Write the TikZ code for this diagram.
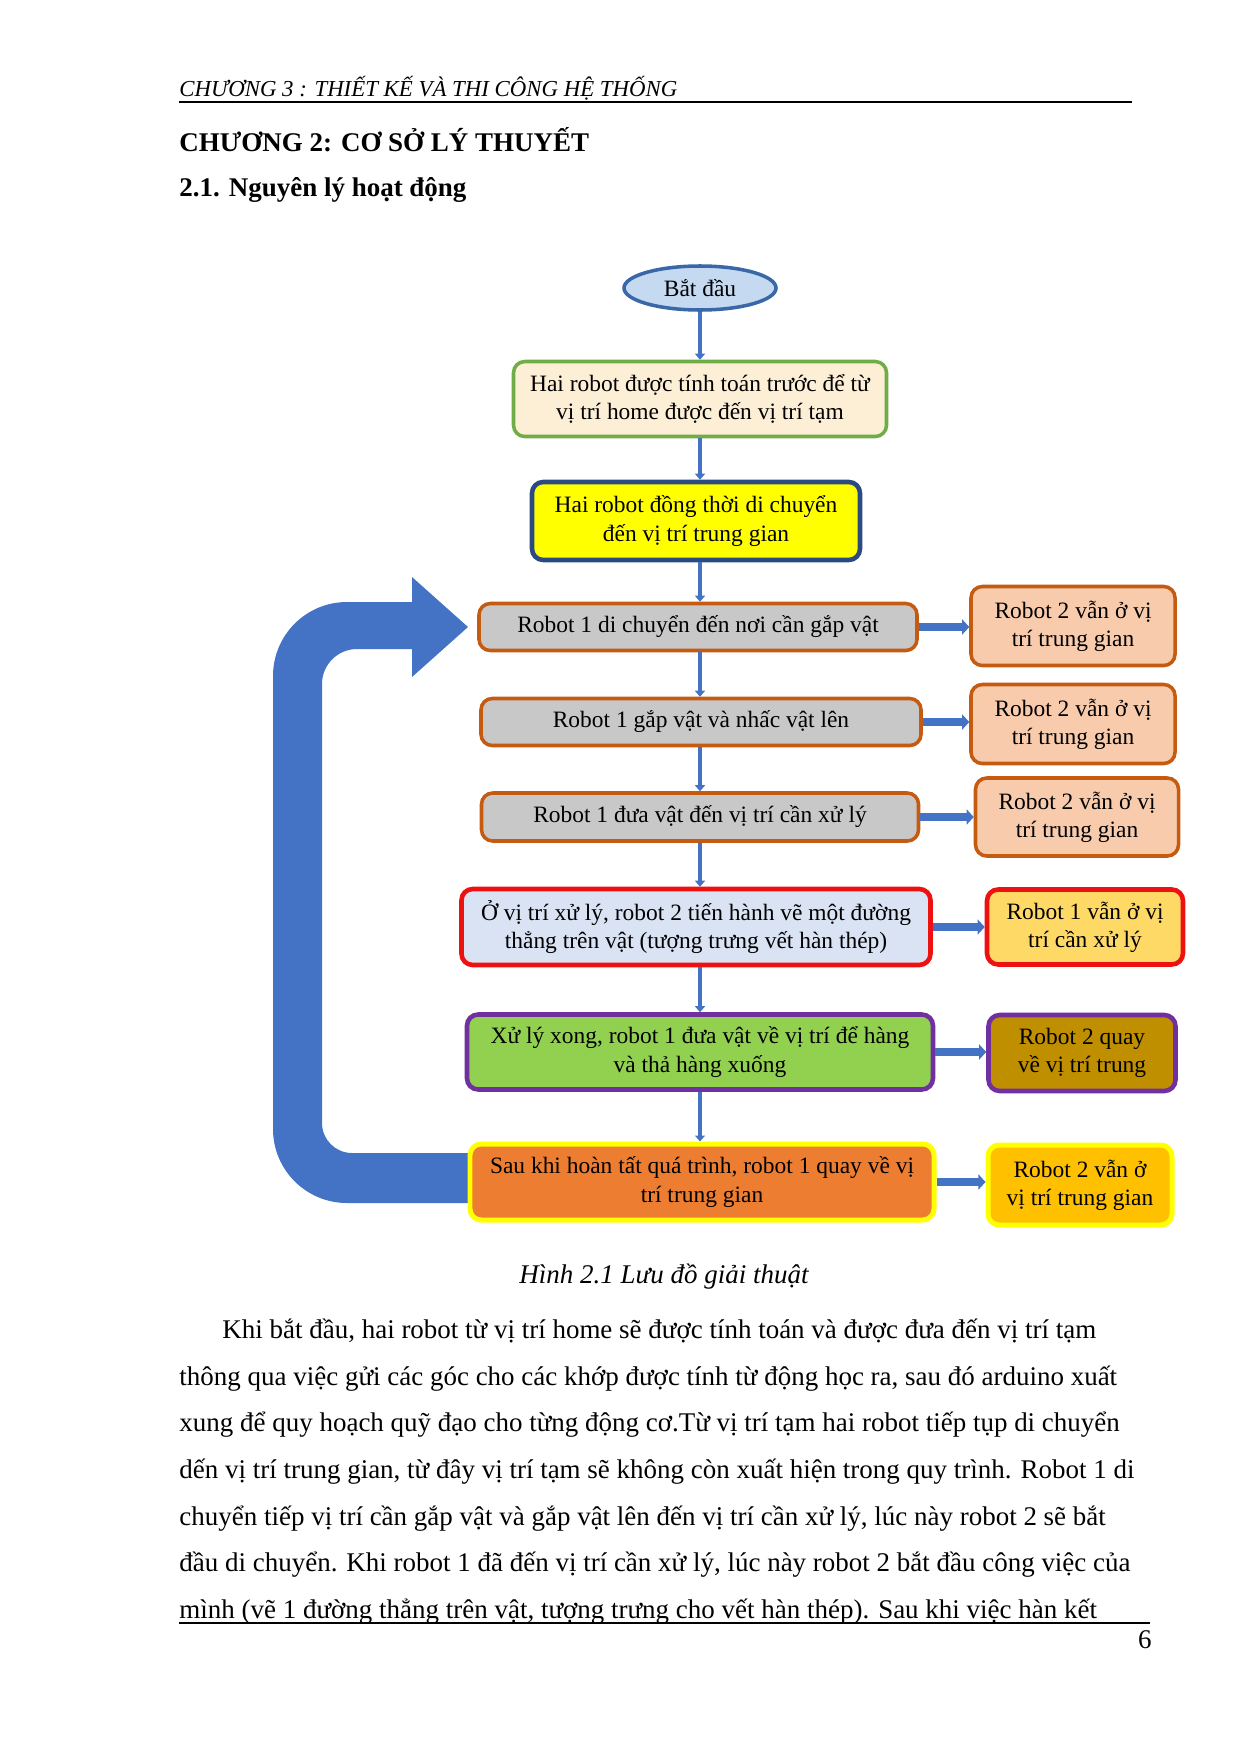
\documentclass[tikz,border=0pt]{standalone}
\usepackage{fontspec}
\setmainfont{Liberation Serif}
\usetikzlibrary{arrows.meta,shapes.geometric}
\newlength\px \setlength\px{0.16935mm}
\definecolor{conn}{HTML}{4472C4}
\definecolor{ellfill}{HTML}{C5D9F1}
\definecolor{elldraw}{HTML}{3A67A8}
\definecolor{cream}{HTML}{FCEFD6}
\definecolor{greenb}{HTML}{70AD47}
\definecolor{navy}{HTML}{2A4A80}
\definecolor{grayf}{HTML}{C8C8C8}
\definecolor{orangeb}{HTML}{C55A11}
\definecolor{peach}{HTML}{F8CBAD}
\definecolor{lblue}{HTML}{DAE3F3}
\definecolor{redb}{HTML}{EE1111}
\definecolor{lgold}{HTML}{FFD966}
\definecolor{lgreen}{HTML}{92D050}
\definecolor{purp}{HTML}{7030A0}
\definecolor{dgold}{HTML}{BF8F00}
\definecolor{orangef}{HTML}{ED7D31}
\definecolor{yelb}{HTML}{FFFF00}
\definecolor{gold}{HTML}{FFC000}
\newcommand\boxfont{\fontsize{11.3}{13.6}\selectfont}
\newcommand\bodyfont{\fontsize{13}{15}\selectfont}
\begin{document}
\begin{tikzpicture}[x=0.16935mm,y=-0.16935mm,
  box/.style={draw, rounded corners=1.9mm, line width=1.7pt, align=center, inner sep=0pt, font=\boxfont, text=black},
  varrow/.style={draw=conn, line width=2.2pt, -{Triangle[width=4.8pt,length=2.9pt]}},
  harrow/.style={draw=conn, line width=3.4pt, -{Triangle[width=7.2pt,length=3.4pt]}},
  txt/.style={anchor=base west, inner sep=0pt, font=\bodyfont}]
\fill[white] (0,0) rectangle (1240,1754);
\useasboundingbox (0,0) rectangle (1240,1754);

% page header
\node[anchor=base west, inner sep=0pt, font=\fontsize{11}{13}\selectfont\itshape] (hdr) at (179,96) {CHƯƠNG 3 : THIẾT KẾ VÀ THI CÔNG HỆ THỐNG};
\coordinate (hrl) at (179,102); \coordinate (hrr) at (1132,102);
\draw[line width=1.2pt] (hrl) -- (hrr);
\node[anchor=base west, inner sep=0pt, font=\fontsize{13}{15}\selectfont\bfseries] (chap) at (179,151) {CHƯƠNG 2: CƠ SỞ LÝ THUYẾT};
\node[anchor=base west, inner sep=0pt, font=\fontsize{13}{15}\selectfont\bfseries] (sec) at (179,196) {2.1. Nguyên lý hoạt động};

% big loop arrow
\fill[conn] (480,1203) -- (347,1203) .. controls (306.1,1203) and (273,1169.9) .. (273,1129)
  -- (273,676) .. controls (273,635.1) and (306.1,602) .. (347,602)
  -- (412,602) -- (412,577) -- (468,627) -- (412,677) -- (412,649)
  -- (357,649) .. controls (337.7,649) and (322,664.7) .. (322,684)
  -- (322,1123) .. controls (322,1139.6) and (335.4,1153) .. (352,1153)
  -- (480,1153) -- cycle;

% flowchart
\node[ellipse, draw=elldraw, fill=ellfill, line width=1.7pt, minimum width=152\px, minimum height=44\px, inner sep=0pt, font=\boxfont] (st) at (700,288) {Bắt đầu};
\node[box, draw=greenb, fill=cream, minimum width=373\px, minimum height=75\px] (b1) at (700,399) {Hai robot được tính toán trước để từ\\vị trí home được đến vị trí tạm};
\node[box, draw=navy, fill=yelb, line width=2.2pt, minimum width=328\px, minimum height=78\px] (b2) at (696,521) {Hai robot đồng thời di chuyển\\đến vị trí trung gian};
\node[box, draw=orangeb, fill=grayf, minimum width=438\px, minimum height=47\px] (b3) at (698,627) {Robot 1 di chuyển đến nơi cần gắp vật};
\node[box, draw=orangeb, fill=grayf, minimum width=440\px, minimum height=47\px] (b4) at (701,722) {Robot 1 gắp vật và nhấc vật lên};
\node[box, draw=orangeb, fill=grayf, minimum width=437\px, minimum height=48\px] (b5) at (700,817) {Robot 1 đưa vật đến vị trí cần xử lý};
\node[box, draw=redb, fill=lblue, line width=2.2pt, minimum width=469\px, minimum height=76\px] (b6) at (696,927) {Ở vị trí xử lý, robot 2 tiến hành vẽ một đường\\thẳng trên vật (tượng trưng vết hàn thép)};
\node[box, draw=purp, fill=lgreen, line width=2.2pt, minimum width=466\px, minimum height=75\px] (b7) at (700,1052) {Xử lý xong, robot 1 đưa vật về vị trí để hàng\\và thả hàng xuống};
\node[box, draw=yelb, fill=orangef, line width=2.4pt, minimum width=464\px, minimum height=76\px] (b8) at (702,1182) {Sau khi hoàn tất quá trình, robot 1 quay về vị\\trí trung gian};

\node[box, draw=orangeb, fill=peach, minimum width=204\px, minimum height=79\px] (r1) at (1073,626) {Robot 2 vẫn ở vị\\trí trung gian};
\node[box, draw=orangeb, fill=peach, minimum width=204\px, minimum height=79\px] (r2) at (1073,724) {Robot 2 vẫn ở vị\\trí trung gian};
\node[box, draw=orangeb, fill=peach, minimum width=203\px, minimum height=78\px] (r3) at (1077,817) {Robot 2 vẫn ở vị\\trí trung gian};
\node[box, draw=redb, fill=lgold, line width=2.2pt, minimum width=196\px, minimum height=75\px] (r4) at (1085,927) {Robot 1 vẫn ở vị\\trí cần xử lý};
\node[box, draw=purp, fill=dgold, line width=2.2pt, minimum width=187\px, minimum height=76\px] (r5) at (1082,1053) {Robot 2 quay\\về vị trí trung};
\node[box, draw=yelb, fill=gold, line width=2.4pt, minimum width=184\px, minimum height=80\px] (r6) at (1080,1185) {Robot 2 vẫn ở\\vị trí trung gian};

\draw[varrow] (st.south) -- (st.south |- b1.north);
\draw[varrow] (b1.south) -- (b1.south |- b2.north);
\draw[varrow] (b2.south -| b1.south) -- (b1.south |- b3.north);
\draw[varrow] (b1.south |- b3.south) -- (b1.south |- b4.north);
\draw[varrow] (b1.south |- b4.south) -- (b1.south |- b5.north);
\draw[varrow] (b1.south |- b5.south) -- (b1.south |- b6.north);
\draw[varrow] (b1.south |- b6.south) -- (b1.south |- b7.north);
\draw[varrow] (b1.south |- b7.south) -- (b1.south |- b8.north);

\draw[harrow] (b3.east) -- (b3.east -| r1.west);
\draw[harrow] (b4.east) -- (b4.east -| r2.west);
\draw[harrow] (b5.east) -- (b5.east -| r3.west);
\draw[harrow] (b6.east) -- (b6.east -| r4.west);
\draw[harrow] (b7.east) -- (b7.east -| r5.west);
\draw[harrow] (b8.east) -- (b8.east -| r6.west);

% caption and body text
\node[anchor=base, inner sep=0pt, font=\bodyfont\itshape] (cap) at (664,1283) {Hình 2.1 Lưu đồ giải thuật};
\node[txt] (p1) at (222,1338) {Khi bắt đầu, hai robot từ vị trí home sẽ được tính toán và được đưa đến vị trí tạm};
\node[txt] (p2) at (179,1385) {thông qua việc gửi các góc cho các khớp được tính từ động học ra, sau đó arduino xuất};
\node[txt] (p3) at (179,1431) {xung để quy hoạch quỹ đạo cho từng động cơ.Từ vị trí tạm hai robot tiếp tụp di chuyển};
\node[txt] (p4) at (179,1478) {dến vị trí trung gian, từ đây vị trí tạm sẽ không còn xuất hiện trong quy trình. Robot 1 di};
\node[txt] (p5) at (179,1525) {chuyển tiếp vị trí cần gắp vật và gắp vật lên đến vị trí cần xử lý, lúc này robot 2 sẽ bắt};
\node[txt] (p6) at (179,1571) {đầu di chuyển. Khi robot 1 đã đến vị trí cần xử lý, lúc này robot 2 bắt đầu công việc của};
\node[txt] (p7) at (179,1618) {mình (vẽ 1 đường thẳng trên vật, tượng trưng cho vết hàn thép). Sau khi việc hàn kết};
\coordinate (frl) at (179,1623); \coordinate (frr) at (1150,1623);
\draw[line width=1.2pt] (frl) -- (frr);
\node[anchor=base east, inner sep=0pt, font=\bodyfont] (pg) at (1152,1648) {6};
\end{tikzpicture}
\end{document}
